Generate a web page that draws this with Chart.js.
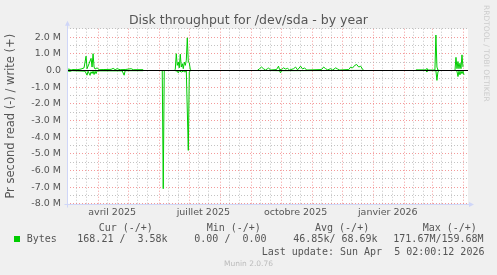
<!DOCTYPE html>
<html>
<head>
<meta charset="utf-8">
<script src="https://cdn.jsdelivr.net/npm/chart.js@4/dist/chart.umd.min.js"></script>
<style>
    html, body { margin: 0; padding: 0; background: #f0f0f0; }
    #wrap { position: relative; width: 497px; height: 275px; overflow: hidden; }
    canvas { display: block; }
    #title { position: absolute; left: 0; top: 11.8px; width: 497px; text-align: center; font-family: 'DejaVu Sans', sans-serif; font-size: 12.5px; line-height: 15px; color: #555; }
    .t { position: absolute; font-family: 'DejaVu Sans Mono', monospace; font-size: 10px; line-height: 12px; color: #555; white-space: pre; }
    .sq { position: absolute; left: 14px; top: 236px; width: 6px; height: 6px; background: #00cc00; }
    #munin { position: absolute; left: 0; width: 497px; top: 259px; text-align: center; font-family: 'DejaVu Sans', sans-serif; font-size: 7.5px; line-height: 9px; color: #bbb; }
    #rrd { position: absolute; left: 482px; top: 5px; writing-mode: vertical-rl; font-family: 'DejaVu Sans', sans-serif; font-size: 7.5px; line-height: 9px; color: #ccc; white-space: nowrap; }
</style>
</head>
<body>
<div id="wrap">
    <canvas id="chart" width="497" height="275"></canvas>
    <div id="title">Disk throughput for /dev/sda - by year</div>
    <div id="rrd">RRDTOOL / TOBI OETIKER</div>
    <div class="t" style="left:98.7px;top:221.7px">Cur (-/+)</div>
    <div class="t" style="left:206.7px;top:221.7px">Min (-/+)</div>
    <div class="t" style="left:315px;top:221.7px">Avg (-/+)</div>
    <div class="t" style="left:422.7px;top:221.7px">Max (-/+)</div>
    <div class="sq"></div>
    <div class="t" style="left:26.7px;top:233.3px">Bytes</div>
    <div class="t" style="left:77.3px;top:233.3px">168.21 /  3.58k</div>
    <div class="t" style="left:194.3px;top:233.3px">0.00 /  0.00</div>
    <div class="t" style="left:293.3px;top:233.3px">46.85k/ 68.69k</div>
    <div class="t" style="left:393.3px;top:233.3px">171.67M/159.68M</div>
    <div class="t" style="left:261.7px;top:245.7px">Last update: Sun Apr  5 02:00:12 2026</div>
    <div id="munin">Munin 2.0.76</div>
</div>
<script>
// Disk throughput /dev/sda, yearly view. x = days since 1 Mar 2025, y = bytes/s in millions.

const writeDays = [
    0, 2, 4, 6, 10, 14, 17, 19, 20, 22, 24, 25, 26, 27, 28, 30, 32, 36, 44, 46, 48, 50, 53, 58, 64, 66, 76, 77,
    107, 108, 109, 110, 111, 112, 113, 114, 115, 116, 117, 118, 119, 120, 121, 122, 123, 124, 125,
    190, 192, 194, 196, 198, 200, 201, 203, 209, 211, 212, 214, 216, 218, 220, 222, 226, 228, 230, 233, 235, 237, 239,
    254, 256, 258, 260, 263, 265, 268, 270, 272, 281, 283, 285, 287, 289, 291, 293, 295, 296, 297,
    348, 358, 359, 360, 367, 368, 369, 370, 371, 372,
    387, 388, 389, 390, 391, 392, 393, 394, 395, 396,
];
const writeVals = [
    0.05, 0.08, 0.02, 0.05, 0.04, 0.08, 0.15, 0.85, 0.1, 0.4, 0.72, 0.2, 1.0, 0.2, 0.08, 0.15, 0.04, 0.05, 0.06, 0.12, 0.04, 0.1, 0.04, 0.05, 0.1, 0.04, 0.04, null,
    0, 0.05, 1.0, 0.3, 0.5, 0.15, 0.97, 0.2, 0.4, 0.1, 0.5, 0.3, 0.6, 1.95, 0.5, 0.45, 0.05, 0, null,
    0, 0.1, 0.2, 0.1, 0.02, 0.1, 0.15, 0.02, 0.05, 0.25, 0.05, 0.05, 0.15, 0.08, 0.12, 0.02, 0.1, 0.2, 0.03, 0.25, 0.08, 0.15, 0.02,
    0.05, 0.2, 0.1, 0.03, 0.1, 0.02, 0.15, 0.08, 0.02, 0.05, 0.2, 0.15, 0.3, 0.35, 0.2, 0.25, 0.05, 0, null,
    0.03, 0.03, 0.12, 0.02, 0.02, 2.12, 0.2, 0.02, 0, null,
    0, 0.78, 0.1, 0.53, 0.1, 0.43, 0.1, 0.93, 0.2, null,
];

const readDays = [
    0, 3, 5, 18, 20, 21, 23, 24, 25, 26, 27, 28, 29, 30, 55, 57, 58, 76, 77,
    95, 96, 97, 98,
    107, 110, 111, 112, 114, 116, 118, 119, 121, 122, 123, 124, 125,
    190, 212, 213, 214, 296, 297,
    348, 358, 359, 360, 368, 369, 370, 371, 372,
    387, 388, 389, 390, 391, 392, 393, 394, 395, 396,
];
const readVals = [
    0.03, 0.06, 0.02, 0.05, 0.29, 0.05, 0.3, 0.08, 0.19, 0.05, 0.25, 0.05, 0.2, 0.03, 0.03, 0.29, 0.02, 0.02, null,
    0, 7.1, 0, null,
    0, 0.05, 0.15, 0.02, 0.1, 0.05, 0.1, 0.02, 4.8, 0.1, 0.02, 0, null,
    0, 0.02, 0.15, 0.02, 0, null,
    0.01, 0.01, 0.1, 0.01, 0.02, 0.6, 0.1, 0.01, 0, null,
    0, 0.05, 0.37, 0.05, 0.27, 0.05, 0.2, 0.05, 0.27, null,
];

// grid positions (days since 1 Mar 2025)
const monthStarts = [31, 61, 92, 122, 153, 184, 214, 245, 275, 306, 337, 365, 396];
const minorDays = [9, 19, 40, 50, 70, 80, 101, 111, 131, 141, 162, 172, 193, 203, 223, 233, 254, 264, 284, 294, 315, 325, 346, 356, 374, 384];
const labelDays = [45, 136, 228, 320];
const labelNames = ['avril 2025', 'juillet 2025', 'octobre 2025', 'janvier 2026'];

const GREEN = '#00cc00';
const MGRID = 'rgba(240, 120, 120, 0.75)';
const GRID = 'rgba(170, 170, 170, 0.7)';
const AXIS = '#cfd6f8';

const bgPlugin = {
    id: 'bg',
    beforeDraw(chart) {
        const { ctx, chartArea: a } = chart;
        ctx.save();
        ctx.fillStyle = '#f0f0f0';
        ctx.fillRect(0, 0, chart.width, chart.height);
        ctx.fillStyle = '#ffffff';
        ctx.fillRect(a.left, a.top, a.right - a.left, a.bottom - a.top);
        ctx.restore();
    },
    afterDatasetsDraw(chart) {
        const { ctx, chartArea: a, scales } = chart;
        const y0 = Math.round(scales.y.getPixelForValue(0)) + 0.5;
        ctx.save();
        ctx.strokeStyle = '#000';
        ctx.lineWidth = 1;
        ctx.beginPath();
        ctx.moveTo(a.left, y0);
        ctx.lineTo(a.right, y0);
        ctx.stroke();

        // axes with arrows
        const l = Math.round(a.left) + 0.5;
        const b = Math.round(a.bottom) + 0.5;
        ctx.strokeStyle = AXIS;
        ctx.fillStyle = AXIS;
        ctx.beginPath();
        ctx.moveTo(l, b + 3);
        ctx.lineTo(l, a.top - 4);
        ctx.moveTo(l - 3, b);
        ctx.lineTo(a.right + 2, b);
        ctx.stroke();
        ctx.beginPath();
        ctx.moveTo(l - 2.5, a.top - 3);
        ctx.lineTo(l + 2.5, a.top - 3);
        ctx.lineTo(l, a.top - 8);
        ctx.closePath();
        ctx.fill();
        ctx.beginPath();
        ctx.moveTo(a.right + 1, b - 2.5);
        ctx.lineTo(a.right + 1, b + 2.5);
        ctx.lineTo(a.right + 6, b);
        ctx.closePath();
        ctx.fill();
        ctx.restore();
    },
};

const line = (days, vals, sign) => ({
    data: days.map((d, i) => ({ x: d, y: vals[i] == null ? null : sign * vals[i] })),
    borderColor: GREEN,
    borderWidth: 1,
    pointRadius: 0,
    tension: 0,
    spanGaps: false,
    fill: false,
});

new Chart(document.getElementById('chart'), {
    type: 'line',
    data: {
        datasets: [line(writeDays, writeVals, 1), line(readDays, readVals, -1)],
    },
    options: {
        responsive: false,
        animation: false,
        devicePixelRatio: 1,
        layout: { padding: { left: 0, right: 29, top: 28.7, bottom: 53.3 } },
        plugins: {
            legend: { display: false },
            tooltip: { enabled: false },
            title: { display: false },
        },
        scales: {
            x: {
                type: 'linear',
                min: 0,
                max: 400,
                afterBuildTicks: (s) => {
                    s.ticks = [...monthStarts, ...minorDays, ...labelDays].map((v) => ({ value: v }));
                },
                afterFit: (s) => { s.height = 18; },
                ticks: {
                    autoSkip: false,
                    maxRotation: 0,
                    padding: 3,
                    color: '#555',
                    font: { family: 'DejaVu Sans', size: 9.5 },
                    callback: (v) => {
                        const i = labelDays.indexOf(v);
                        return i >= 0 ? labelNames[i] : '';
                    },
                },
                grid: {
                    drawTicks: false,
                    lineWidth: 1,
                    color: (c) => {
                        const v = c.tick && c.tick.value;
                        if (monthStarts.includes(v)) return MGRID;
                        if (minorDays.includes(v)) return GRID;
                        return 'rgba(0,0,0,0)';
                    },
                },
                border: { display: false, dash: [1, 2] },
            },
            y: {
                min: -8,
                max: 2.5,
                afterFit: (s) => { s.width = 67; },
                ticks: {
                    stepSize: 0.5,
                    autoSkip: false,
                    padding: 6,
                    color: '#555',
                    font: { family: 'DejaVu Sans', size: 9.5 },
                    callback: (v) => {
                        if (!Number.isInteger(v)) return '';
                        return v === 0 ? '0.0' : `${v.toFixed(1)} M`;
                    },
                },
                grid: {
                    drawTicks: false,
                    color: (c) => (Number.isInteger(c.tick && c.tick.value) ? MGRID : GRID),
                },
                border: { display: false, dash: [1, 2] },
                title: {
                    display: true,
                    text: 'Pr second read (-) / write (+)',
                    color: '#555',
                    font: { family: 'DejaVu Sans', size: 11.5, weight: 'normal' },
                    padding: { top: 4, bottom: 0 },
                },
            },
        },
    },
    plugins: [bgPlugin],
});
</script>
</body>
</html>
